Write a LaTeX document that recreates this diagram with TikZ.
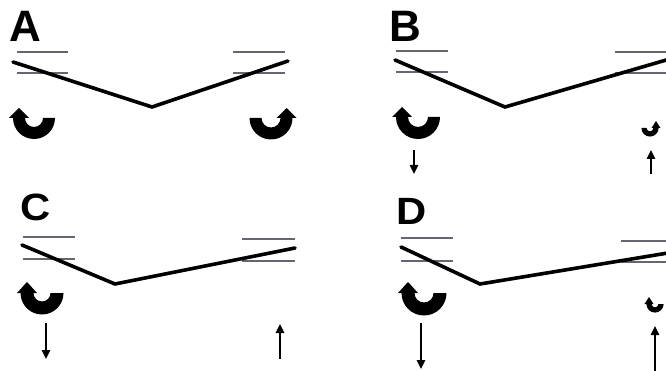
\documentclass[tikz,border=0pt]{standalone}
\usepackage{fontspec}
\setmainfont{Liberation Sans}
\usetikzlibrary{arrows.meta}
\definecolor{ruleg}{RGB}{105,100,112}
\tikzset{
  guide/.style={draw=ruleg,line width=2pt},
  beam/.style={draw=black,line width=3.6pt,line join=miter,line cap=round},
  force/.style={draw=black,line width=1.4pt,-{Triangle[width=8.5pt,length=9pt]}},
  panellabel/.style={anchor=base west,inner sep=0pt,font=\bfseries\fontsize{44}{44}\selectfont},
  panellabelsmall/.style={anchor=base west,inner sep=0pt,font=\bfseries\fontsize{38}{38}\selectfont,yscale=1,xscale=1.1}
}
% cx, cy, r, halfthick, headhalfwidth, headlength
\newcommand\uturnleft[6]{%
  \fill[black] ({#1-#3-#4},#2) arc[start angle=180,end angle=0,radius={#3+#4}]
    -- ({#1+#3-#4},#2) arc[start angle=0,end angle=180,radius={#3-#4}]
    -- ({#1-#3+#5},#2) -- ({#1-#3},{#2-#6}) -- ({#1-#3-#5},#2) -- cycle;}
\newcommand\uturnright[6]{%
  \fill[black] ({#1+#3+#4},#2) arc[start angle=0,end angle=180,radius={#3+#4}]
    -- ({#1-#3+#4},#2) arc[start angle=180,end angle=0,radius={#3-#4}]
    -- ({#1+#3-#5},#2) -- ({#1+#3},{#2-#6}) -- ({#1+#3+#5},#2) -- cycle;}
\begin{document}
\begin{tikzpicture}[x=1pt,y=-1pt]
\useasboundingbox (0,0) rectangle (666,371);
\begin{scope}
\clip (0,0) rectangle (666,371);
% ---------- A ----------
\node[panellabel] (labA) at (9,42) {A};
\draw[guide] (17,52) -- (68,52);
\draw[guide] (17,73) -- (68,73);
\draw[guide] (233,52) -- (285,52);
\draw[guide] (233,73) -- (285,73);
\coordinate (a1) at (13,62); \coordinate (a2) at (152,107); \coordinate (a3) at (288,61);
\draw[beam] (a1) -- (a2) -- (a3);
\uturnleft{34}{118}{15}{6}{10}{10}
\uturnright{271}{118}{15.5}{6}{10}{10}
% ---------- B ----------
\node[panellabel] (labB) at (389,42) {B};
\draw[guide] (396,51) -- (448,51);
\draw[guide] (396,72) -- (448,72);
\draw[guide] (615,52) -- (666,52);
\draw[guide] (615,73) -- (666,73);
\coordinate (b1) at (395,60); \coordinate (b2) at (505,107); \coordinate (b3) at (680,56);
\draw[beam] (b1) -- (b2) -- (b3);
\uturnleft{418}{117}{16}{6}{10}{10}
\coordinate (bd1) at (414,150); \coordinate (bd2) at (414,174);
\draw[force] (bd1) -- (bd2);
\uturnright{650}{128}{6}{2.6}{4.5}{7}
\coordinate (bu1) at (651,174); \coordinate (bu2) at (651,150);
\draw[force] (bu1) -- (bu2);
% ---------- C ----------
\node[panellabelsmall] (labC) at (20,221) {C};
\draw[guide] (23,237) -- (75,237);
\draw[guide] (23,259) -- (75,259);
\draw[guide] (242,239) -- (295,239);
\draw[guide] (242,261) -- (295,261);
\coordinate (c1) at (22,245); \coordinate (c2) at (115,284); \coordinate (c3) at (295,248);
\draw[beam] (c1) -- (c2) -- (c3);
\uturnleft{42}{293}{15}{6.5}{10}{11}
\coordinate (cd1) at (46,323); \coordinate (cd2) at (46,359);
\draw[force] (cd1) -- (cd2);
\coordinate (cu1) at (280,359); \coordinate (cu2) at (280,324);
\draw[force] (cu1) -- (cu2);
% ---------- D ----------
\node[panellabelsmall] (labD) at (396,225) {D};
\draw[guide] (401,238) -- (453,238);
\draw[guide] (401,261) -- (453,261);
\draw[guide] (621,241) -- (666,241);
\draw[guide] (621,262) -- (666,262);
\coordinate (d1) at (401,247); \coordinate (d2) at (480,284); \coordinate (d3) at (680,251);
\draw[beam] (d1) -- (d2) -- (d3);
\uturnleft{424}{293}{16}{6.5}{10}{11}
\coordinate (dd1) at (421,323); \coordinate (dd2) at (421,369);
\draw[force] (dd1) -- (dd2);
\uturnleft{655}{304}{6}{2.6}{4.5}{7}
\coordinate (du1) at (655,372); \coordinate (du2) at (655,326);
\draw[force] (du1) -- (du2);
\end{scope}
\end{tikzpicture}
\end{document}
